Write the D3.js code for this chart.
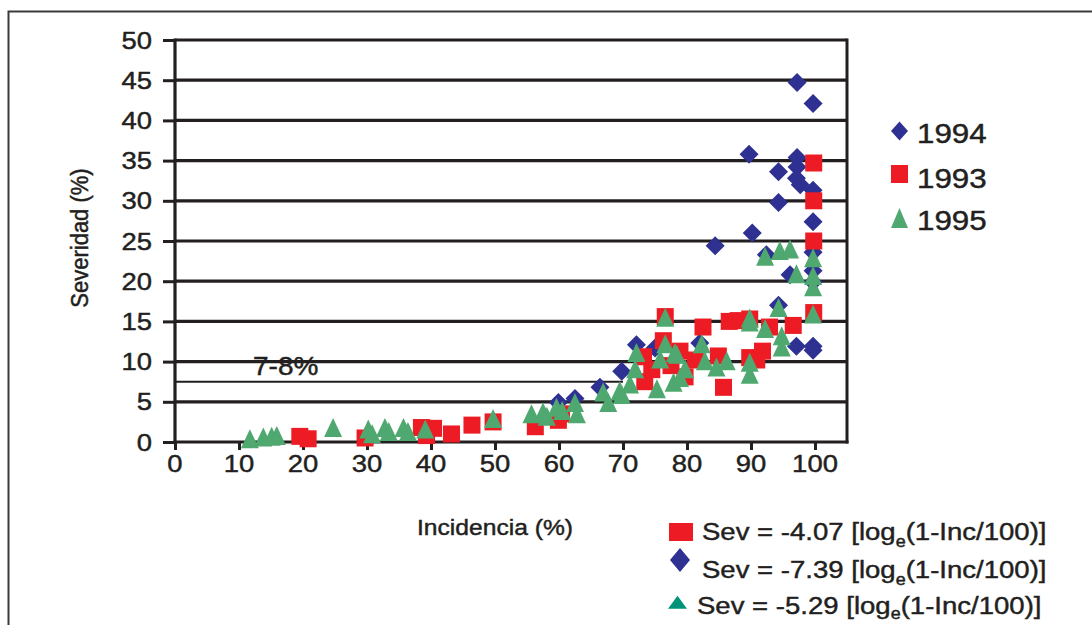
<!DOCTYPE html>
<html><head><meta charset="utf-8">
<script src="https://cdn.jsdelivr.net/npm/d3@7"></script>
<style>
body{margin:0;background:#fff}
text{font-family:"Liberation Sans",Arial,Helvetica,sans-serif;fill:#231f20;stroke:#231f20;stroke-width:0.45px}
</style>
</head><body>
<svg id="c" width="1092" height="625"></svg>
<script>
// ---------- data ----------
const xTicks = [0,10,20,30,40,50,60,70,80,90,100];
const yTicks = [0,5,10,15,20,25,30,35,40,45,50];
const seriesNames = ["1994","1993","1995"];
const equations = ["-4.07","-7.39","-5.29"];

const inc1994 = [97.2,99.7,89.7,97.2,97.2,94.3,97.1,97.7,99.7,94.3,99.7,90.2,84.4,92.4,96.1,99.7,99.7,99.7,94.3,97.1,99.7,99.7,82.0,72.1,75.0,69.8,66.4,62.5,59.9];
const sev1994 = [44.7,42.1,35.8,35.4,34.2,33.6,32.8,32.0,31.3,29.8,27.4,26.0,24.4,23.3,20.8,23.6,21.3,19.9,17.0,11.9,11.9,11.4,12.3,12.1,11.7,8.8,6.8,5.4,4.9];

const inc1993 = [99.8,99.8,99.8,99.8,76.6,82.5,86.6,88.0,89.8,92.9,96.6,76.3,78.9,91.8,81.3,84.9,89.8,90.9,73.2,73.4,79.7,85.7,60.4,59.9,56.3,49.7,46.4,43.2,40.4,38.5,39.3,29.7,19.5,20.8,77.5,74.5];
const sev1993 = [34.7,30.0,25.0,16.1,15.6,14.3,15.0,15.1,15.3,14.3,14.5,12.6,11.3,11.3,10.2,10.7,10.5,10.2,10.6,7.5,8.1,6.8,3.5,2.7,1.9,2.5,2.1,1.0,1.7,1.8,0.8,0.5,0.7,0.4,9.5,9.0];

const inc1995 = [11.7,13.8,15.1,15.9,24.7,30.2,30.8,32.8,33.4,35.7,36.4,39.1,49.7,55.7,58.1,59.6,62.8,62.5,66.9,67.7,69.8,71.1,71.9,72.1,75.3,75.8,76.6,76.6,77.9,78.9,79.7,78.1,78.4,82.3,82.8,84.6,86.2,89.8,89.8,89.8,92.2,94.8,94.8,94.3,92.2,94.5,96.1,99.7,97.1,99.7,99.7,99.7,89.8,57.5,60.5,69.5];
const sev1995 = [0.3,0.5,0.6,0.7,1.7,1.5,0.9,1.7,1.2,1.7,1.2,1.5,2.8,3.4,3.1,4.2,3.4,4.8,6.1,4.8,5.8,7.1,9.0,11.0,6.5,10.2,15.4,12.1,7.3,7.9,9.0,11.0,10.8,12.1,10.0,9.2,10.0,9.8,8.3,14.8,14.0,13.1,11.7,16.6,23.0,23.7,23.9,22.8,20.8,20.6,19.2,15.8,15.3,3.6,3.8,6.3];

const refLevel = 7.5, refEnd = 70;

// ---------- setup ----------
const SX = 1.12; // horizontal stretch of text
const ink = "#231f20";
const cBlue = "#2e3192", cRed = "#ed1c24", cGreen = "#4fa86f", cTeal = "#00937a";

const svg = d3.select("#c");
const x = d3.scaleLinear().domain([0,105]).range([175,847]);
const y = d3.scaleLinear().domain([0,50]).range([442,40]);

function stext(g, tx, ty, str, size, anchor, rot){
  return g.append("text")
    .attr("transform", `translate(${tx},${ty}) scale(${SX},1)` + (rot ? ` rotate(${rot})` : ""))
    .attr("font-size", size).attr("text-anchor", anchor || "start").text(str);
}
const diamondPath = (w,h) => `M0,${-h/2}L${w/2},0L0,${h/2}L${-w/2},0Z`;
const squarePath = (w,h) => `M${-w/2},${-h/2}h${w}v${h}h${-w}Z`;
const triPath = (w,h) => `M0,${-h*0.55}L${w/2},${h*0.45}L${-w/2},${h*0.45}Z`;

// outer frame
svg.append("rect").attr("x",8.5).attr("y",11.5).attr("width",1200).attr("height",700)
  .attr("fill","none").attr("stroke","#3a3a3a").attr("stroke-width",2);

// gridlines
svg.append("g").selectAll("line").data(yTicks.filter(d=>d>0)).join("line")
  .attr("x1",x(0)).attr("x2",x(105)).attr("y1",d=>y(d)).attr("y2",d=>y(d))
  .attr("stroke",ink).attr("stroke-width",3.2);
// right border
svg.append("line").attr("x1",x(105)).attr("x2",x(105)).attr("y1",y(50)-1.5).attr("y2",y(0)+1.5)
  .attr("stroke",ink).attr("stroke-width",3);
// 7-8% reference line
svg.append("line").attr("x1",x(0)).attr("x2",x(refEnd)).attr("y1",y(refLevel)).attr("y2",y(refLevel))
  .attr("stroke",ink).attr("stroke-width",2);
stext(svg, 253, 375, "7-8%", 25);

// axes
const gy = svg.append("g").attr("transform",`translate(${x(0)},0)`)
  .call(d3.axisLeft(y).tickValues(yTicks).tickSize(12).tickFormat(""));
const gx = svg.append("g").attr("transform",`translate(0,${y(0)})`)
  .call(d3.axisBottom(x).tickValues(xTicks).tickSize(8).tickFormat(""));
[gy,gx].forEach(g=>{
  g.selectAll("path.domain").attr("stroke",ink).attr("stroke-width",3.2);
  g.selectAll(".tick line").attr("stroke",ink).attr("stroke-width",3);
});
gx.select("path.domain").attr("d",`M${x(0)-1.5},0H${x(105)+1.5}`);
gy.select("path.domain").attr("d",`M0,${y(50)-1.5}V${y(0)+1.5}`);

// tick labels
yTicks.forEach(t => stext(svg, 152, y(t)+8.5, String(t), 24.5, "end"));
xTicks.forEach(t => stext(svg, x(t), 472, String(t), 24.5, "middle"));

// axis titles
stext(svg, 495, 535, "Incidencia (%)", 22, "middle");
stext(svg, 88, 238, "Severidad (%)", 22, "middle", -90);

// ---------- points ----------
const mk = (xs, ys) => xs.map((v,i)=>({x:v, y:ys[i]}));
const pts = svg.append("g");
pts.selectAll("path.d94").data(mk(inc1994,sev1994)).join("path").attr("class","d94")
  .attr("transform",d=>`translate(${x(d.x)},${y(d.y)})`).attr("d",diamondPath(19,19)).attr("fill",cBlue);
pts.selectAll("path.d93").data(mk(inc1993,sev1993)).join("path").attr("class","d93")
  .attr("transform",d=>`translate(${x(d.x)},${y(d.y)})`).attr("d",squarePath(17,17)).attr("fill",cRed);
pts.selectAll("path.d95").data(mk(inc1995,sev1995)).join("path").attr("class","d95")
  .attr("transform",d=>`translate(${x(d.x)},${y(d.y)})`).attr("d",triPath(18,19)).attr("fill",cGreen);

// ---------- right legend ----------
const leg = [
  {name:seriesNames[0], path:diamondPath(17,19), color:cBlue, cy:131, by:143},
  {name:seriesNames[1], path:squarePath(17,18), color:cRed, cy:174, by:188},
  {name:seriesNames[2], path:triPath(17,20), color:cGreen, cy:219, by:230}
];
leg.forEach(l=>{
  svg.append("path").attr("transform",`translate(899.5,${l.cy})`).attr("d",l.path).attr("fill",l.color);
  stext(svg, 917, l.by, l.name, 28);
});

// ---------- bottom legend ----------
const bl = [
  {eq:equations[0], path:squarePath(24,18), color:cRed, cx:681, cy:532, tx:702, by:540, sub:7},
  {eq:equations[1], path:diamondPath(20,24), color:cBlue, cx:680, cy:560, tx:702, by:578, sub:7},
  {eq:equations[2], path:triPath(19,13), color:cTeal, cx:677.5, cy:603, tx:697, by:614, sub:5}
];
bl.forEach(l=>{
  svg.append("path").attr("transform",`translate(${l.cx},${l.cy})`).attr("d",l.path).attr("fill",l.color);
  const t = stext(svg, l.tx, l.by, "", 24.6);
  t.append("tspan").text(`Sev = ${l.eq} [log`);
  t.append("tspan").attr("font-size",16).attr("dy",l.sub).text("e");
  t.append("tspan").attr("dy",-l.sub).text("(1-Inc/100)]");
});
</script>
</body></html>
